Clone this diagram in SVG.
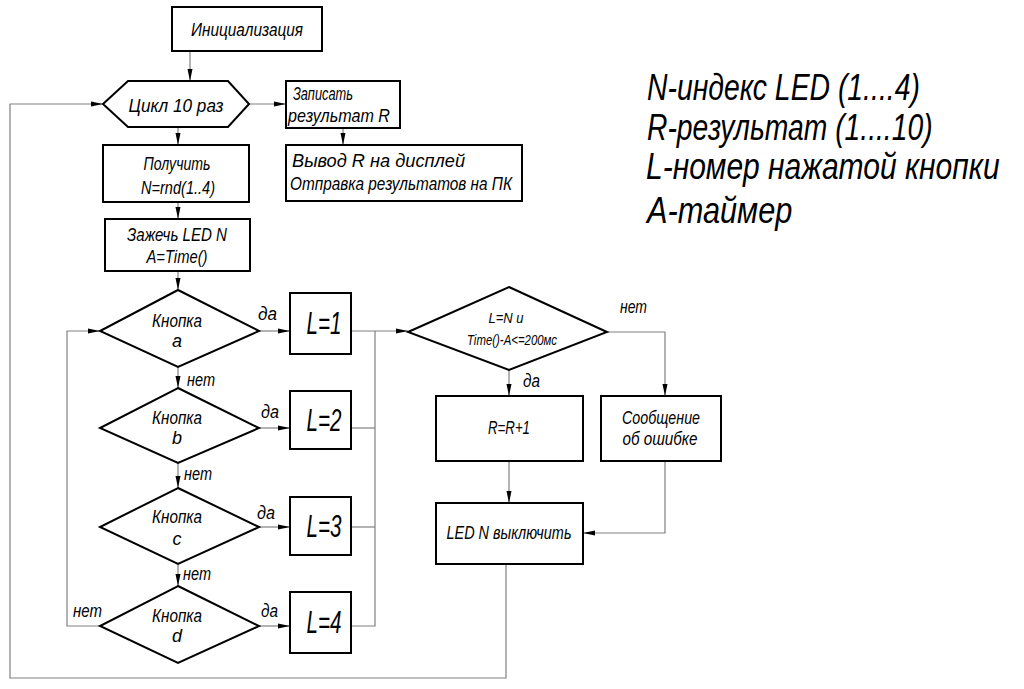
<svg xmlns="http://www.w3.org/2000/svg" width="1024" height="689" viewBox="0 0 1024 689">
<style>
.n{fill:#fff;stroke:#000;stroke-width:2}
.c{fill:none;stroke:#808080;stroke-width:1.2}
text{font-family:"Liberation Sans",Arial,sans-serif;font-style:italic;fill:#000}
.t{font-size:18px;text-anchor:middle}
.l{font-size:18px}
.big{font-size:31px;text-anchor:middle}
.s{font-size:14px;text-anchor:middle}
.leg{font-size:37px}
</style>
<defs>
<marker id="a" viewBox="0 0 12 6" refX="12" refY="3" markerWidth="12" markerHeight="6" markerUnits="userSpaceOnUse" orient="auto">
<path d="M0,0.5 L12,3 L0,5.5 z" fill="#000"/>
</marker>
</defs>
<rect width="1024" height="689" fill="#fff"/>
<g id="connectors">
<path class="c" d="M190,51 V81" marker-end="url(#a)"/>
<path class="c" d="M249,104 H286" marker-end="url(#a)"/>
<path class="c" d="M343,128 V145" marker-end="url(#a)"/>
<path class="c" d="M178,127 V145" marker-end="url(#a)"/>
<path class="c" d="M178,202 V219" marker-end="url(#a)"/>
<path class="c" d="M178,271 V290" marker-end="url(#a)"/>
<path class="c" d="M178,367 V388" marker-end="url(#a)"/>
<path class="c" d="M178,463 V488" marker-end="url(#a)"/>
<path class="c" d="M178,564 V586" marker-end="url(#a)"/>
<path class="c" d="M259,331 H290" marker-end="url(#a)"/>
<path class="c" d="M259,428 H290" marker-end="url(#a)"/>
<path class="c" d="M259,527 H290" marker-end="url(#a)"/>
<path class="c" d="M259,626 H290" marker-end="url(#a)"/>
<path class="c" d="M100,626 H67 V331 H100" marker-end="url(#a)"/>
<path class="c" d="M351,428 H375"/>
<path class="c" d="M351,527 H375"/>
<path class="c" d="M351,626 H375 V331"/>
<path class="c" d="M351,331 H408" marker-end="url(#a)"/>
<path class="c" d="M509,370 V396" marker-end="url(#a)"/>
<path class="c" d="M607,332 H665 V396" marker-end="url(#a)"/>
<path class="c" d="M509,461 V503" marker-end="url(#a)"/>
<path class="c" d="M665,461 V533 H583" marker-end="url(#a)"/>
<path class="c" d="M506,564 V678 H10 V104 H103" marker-end="url(#a)"/>
<text class="l" x="258" y="320" textLength="19" lengthAdjust="spacingAndGlyphs">да</text>
<text class="l" x="261" y="418" textLength="18" lengthAdjust="spacingAndGlyphs">да</text>
<text class="l" x="257" y="519" textLength="18" lengthAdjust="spacingAndGlyphs">да</text>
<text class="l" x="261" y="617" textLength="17" lengthAdjust="spacingAndGlyphs">да</text>
<text class="l" x="187" y="386" textLength="28" lengthAdjust="spacingAndGlyphs">нет</text>
<text class="l" x="184" y="480" textLength="28" lengthAdjust="spacingAndGlyphs">нет</text>
<text class="l" x="183" y="580" textLength="28" lengthAdjust="spacingAndGlyphs">нет</text>
<text class="l" x="73" y="617" textLength="29" lengthAdjust="spacingAndGlyphs">нет</text>
<text class="l" x="620" y="313" textLength="27" lengthAdjust="spacingAndGlyphs">нет</text>
<text class="l" x="523" y="387" textLength="17" lengthAdjust="spacingAndGlyphs">да</text>
</g>
<g id="init">
<rect class="n" x="172" y="7" width="150" height="44"/>
<text class="t" x="247" y="36" textLength="112" lengthAdjust="spacingAndGlyphs">Инициализация</text>
</g>
<g id="loop">
<polygon class="n" points="103,104 128,81 228,81 249,104 228,127 128,127"/>
<text class="t" x="176" y="112" textLength="95" lengthAdjust="spacingAndGlyphs">Цикл 10 раз</text>
</g>
<g id="save">
<rect class="n" x="286" y="81" width="114" height="47"/>
<text class="l" x="293" y="100" textLength="60" lengthAdjust="spacingAndGlyphs">Записать</text>
<text class="l" x="288" y="122" textLength="102" lengthAdjust="spacingAndGlyphs">результат R</text>
</g>
<g id="output">
<rect class="n" x="286" y="145" width="236" height="56"/>
<text class="l" x="292" y="167" textLength="173" lengthAdjust="spacingAndGlyphs">Вывод R на дисплей</text>
<text class="l" x="290" y="190" textLength="222" lengthAdjust="spacingAndGlyphs">Отправка результатов на ПК</text>
</g>
<g id="getN">
<rect class="n" x="103" y="145" width="146" height="57"/>
<text class="t" x="177" y="170" textLength="67" lengthAdjust="spacingAndGlyphs">Получить</text>
<text class="t" x="178" y="194" textLength="74" lengthAdjust="spacingAndGlyphs">N=rnd(1..4)</text>
</g>
<g id="ledOn">
<rect class="n" x="105" y="219" width="145" height="52"/>
<text class="t" x="177" y="241" textLength="100" lengthAdjust="spacingAndGlyphs">Зажечь LED N</text>
<text class="t" x="177" y="263" textLength="61" lengthAdjust="spacingAndGlyphs">A=Time()</text>
</g>
<g id="btnA">
<polygon class="n" points="178,290 259,331 178,367 100,331"/>
<text class="t" x="177" y="327" textLength="50" lengthAdjust="spacingAndGlyphs">Кнопка</text>
<text class="t" x="177" y="347">a</text>
</g>
<g id="btnB">
<polygon class="n" points="178,388 259,428 178,463 100,428"/>
<text class="t" x="177" y="424" textLength="50" lengthAdjust="spacingAndGlyphs">Кнопка</text>
<text class="t" x="177" y="444">b</text>
</g>
<g id="btnC">
<polygon class="n" points="178,488 259,527 178,564 100,527"/>
<text class="t" x="177" y="523" textLength="50" lengthAdjust="spacingAndGlyphs">Кнопка</text>
<text class="t" x="177" y="545">c</text>
</g>
<g id="btnD">
<polygon class="n" points="178,586 259,626 178,663 100,626"/>
<text class="t" x="177" y="622" textLength="50" lengthAdjust="spacingAndGlyphs">Кнопка</text>
<text class="t" x="177" y="642">d</text>
</g>
<g id="L1">
<rect class="n" x="290" y="293" width="61" height="61"/>
<text class="big" x="324" y="334" textLength="35" lengthAdjust="spacingAndGlyphs">L=1</text>
</g>
<g id="L2">
<rect class="n" x="290" y="391" width="61" height="58"/>
<text class="big" x="324" y="431" textLength="35" lengthAdjust="spacingAndGlyphs">L=2</text>
</g>
<g id="L3">
<rect class="n" x="290" y="497" width="61" height="58"/>
<text class="big" x="324" y="537" textLength="35" lengthAdjust="spacingAndGlyphs">L=3</text>
</g>
<g id="L4">
<rect class="n" x="290" y="592" width="61" height="61"/>
<text class="big" x="324" y="633" textLength="35" lengthAdjust="spacingAndGlyphs">L=4</text>
</g>
<g id="check">
<polygon class="n" points="509,287 607,332 509,370 408,332"/>
<text class="s" x="506" y="323" textLength="35" lengthAdjust="spacingAndGlyphs">L=N и</text>
<text class="s" x="512" y="345" textLength="90" lengthAdjust="spacingAndGlyphs">Time()-A&lt;=200мс</text>
</g>
<g id="inc">
<rect class="n" x="436" y="396" width="147" height="65"/>
<text class="t" x="509" y="434" textLength="42" lengthAdjust="spacingAndGlyphs">R=R+1</text>
</g>
<g id="err">
<rect class="n" x="601" y="396" width="120" height="65"/>
<text class="t" x="661" y="424" textLength="78" lengthAdjust="spacingAndGlyphs">Сообщение</text>
<text class="t" x="660" y="445" textLength="75" lengthAdjust="spacingAndGlyphs">об ошибке</text>
</g>
<g id="ledOff">
<rect class="n" x="436" y="503" width="147" height="61"/>
<text class="t" x="509" y="539" textLength="125" lengthAdjust="spacingAndGlyphs">LED N выключить</text>
</g>
<g id="legend">
<text class="leg" transform="matrix(0.85 0 0 1 647 0)" x="0" y="100" textLength="321" lengthAdjust="spacingAndGlyphs">N-индекс LED (1....4)</text>
<text class="leg" transform="matrix(0.85 0 0 1 647 0)" x="0" y="140" textLength="336" lengthAdjust="spacingAndGlyphs">R-результат (1....10)</text>
<text class="leg" transform="matrix(0.85 0 0 1 646 0)" x="0" y="179" textLength="416" lengthAdjust="spacingAndGlyphs">L-номер нажатой кнопки</text>
<text class="leg" transform="matrix(0.85 0 0 1 647 0)" x="0" y="223" textLength="171" lengthAdjust="spacingAndGlyphs">A-таймер</text>
</g>
</svg>
